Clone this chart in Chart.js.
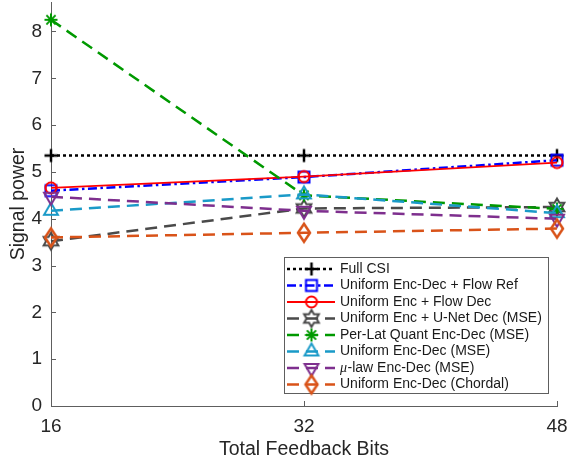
<!DOCTYPE html>
<html>
<head>
<meta charset="utf-8">
<script src="https://cdn.jsdelivr.net/npm/chart.js@4.4.1/dist/chart.umd.min.js"></script>
<style>
  html, body { margin: 0; padding: 0; background: #ffffff; }
  #wrap { width: 568px; height: 457px; }
</style>
</head>
<body>
<div id="wrap"><canvas id="c" width="568" height="457"></canvas></div>
<script>
// ---- data ----
const feedbackBits = [16, 32, 48];
const yTickValues = [0, 1, 2, 3, 4, 5, 6, 7, 8];
const seriesNames = [
  'Full CSI',
  'Uniform Enc-Dec + Flow Ref',
  'Uniform Enc + Flow Dec',
  'Uniform Enc + U-Net Dec (MSE)',
  'Per-Lat Quant Enc-Dec (MSE)',
  'Uniform Enc-Dec (MSE)',
  'μ-law Enc-Dec (MSE)',
  'Uniform Enc-Dec (Chordal)'
];
const fullCSI        = [5.35, 5.35, 5.35];
const flowRef        = [4.60, 4.89, 5.25];
const flowDec        = [4.66, 4.90, 5.20];
const unetDecMSE     = [3.52, 4.22, 4.25];
const perLatQuantMSE = [8.25, 4.50, 4.21];
const uniformMSE     = [4.17, 4.52, 4.12];
const muLawMSE       = [4.47, 4.17, 4.00];
const uniformChordal = [3.60, 3.70, 3.79];
const seriesValues = [fullCSI, flowRef, flowDec, unetDecMSE, perLatQuantMSE, uniformMSE, muLawMSE, uniformChordal];

// ---- styles ----
const AXIS_COLOR = '#5e5e5e';
const TEXT_COLOR = '#262626';
const FONT = '"Liberation Sans", Arial, Helvetica, sans-serif';
const DASH = [12, 7];
const seriesStyles = [
  { color: '#000000', width: 2.5, dash: [3, 3],             marker: 'plus',     mlw: 2.5 },
  { color: '#0000ff', width: 2.5, dash: [9, 3.5, 2.5, 3.5], marker: 'square',   mlw: 2 },
  { color: '#ff0000', width: 1.8, dash: [],                 marker: 'circle',   mlw: 2 },
  { color: '#4a4a4a', width: 2.5, dash: DASH,               marker: 'hexagram', mlw: 2 },
  { color: '#009900', width: 2.5, dash: DASH,               marker: 'asterisk', mlw: 2 },
  { color: '#1a9ac8', width: 2.5, dash: DASH,               marker: 'triUp',    mlw: 2 },
  { color: '#7e2f8e', width: 2.5, dash: DASH,               marker: 'triDown',  mlw: 2 },
  { color: '#d95319', width: 2.5, dash: DASH,               marker: 'diamond',  mlw: 2.5 }
];

// Hollow marker glyphs rendered once into small canvases
function makeMarker(kind, color, lw) {
  const S = 26, c = S / 2;
  const cv = document.createElement('canvas');
  cv.width = S; cv.height = S;
  const g = cv.getContext('2d');
  g.strokeStyle = color;
  g.lineWidth = lw;
  g.lineJoin = 'miter';
  g.beginPath();
  const poly = (pts) => { pts.forEach((p, i) => i ? g.lineTo(c + p[0], c + p[1]) : g.moveTo(c + p[0], c + p[1])); g.closePath(); };
  switch (kind) {
    case 'plus':
      g.moveTo(c - 6.5, c); g.lineTo(c + 6.5, c);
      g.moveTo(c, c - 6.5); g.lineTo(c, c + 6.5);
      break;
    case 'square':
      g.rect(c - 5.5, c - 5.5, 11, 11);
      break;
    case 'circle':
      g.arc(c, c, 5.5, 0, Math.PI * 2);
      break;
    case 'hexagram': {
      const R = 8.5, r = R / Math.sqrt(3), pts = [];
      for (let i = 0; i < 12; i++) {
        const a = -Math.PI / 2 + i * Math.PI / 6;
        const rr = i % 2 ? r : R;
        pts.push([rr * Math.cos(a), rr * Math.sin(a)]);
      }
      poly(pts);
      break;
    }
    case 'asterisk':
      for (let k = 0; k < 4; k++) {
        const a = k * Math.PI / 4;
        g.moveTo(c - 6.5 * Math.cos(a), c - 6.5 * Math.sin(a));
        g.lineTo(c + 6.5 * Math.cos(a), c + 6.5 * Math.sin(a));
      }
      break;
    case 'triUp': {
      const r = 8;
      poly([[0, -r], [r * Math.cos(Math.PI / 6), r / 2], [-r * Math.cos(Math.PI / 6), r / 2]]);
      break;
    }
    case 'triDown': {
      const r = 8;
      poly([[0, r], [r * Math.cos(Math.PI / 6), -r / 2], [-r * Math.cos(Math.PI / 6), -r / 2]]);
      break;
    }
    case 'diamond':
      poly([[0, -9], [6, 0], [0, 9], [-6, 0]]);
      break;
  }
  g.stroke();
  return cv;
}

const markers = seriesStyles.map(s => makeMarker(s.marker, s.color, s.mlw));

const datasets = seriesValues.map((vals, i) => ({
  label: seriesNames[i],
  data: feedbackBits.map((x, j) => ({ x: x, y: vals[j] })),
  borderColor: seriesStyles[i].color,
  backgroundColor: seriesStyles[i].color,
  borderWidth: seriesStyles[i].width,
  borderDash: seriesStyles[i].dash,
  borderCapStyle: 'butt',
  pointStyle: markers[i],
  pointRadius: 8,
  pointHoverRadius: 8,
  fill: false,
  tension: 0,
  clip: false,
  order: -i
}));

// MATLAB-like tick marks pointing into the plot area
const innerTicks = {
  id: 'innerTicks',
  beforeDatasetsDraw(chart) {
    const { ctx, chartArea: a, scales: { x, y } } = chart;
    ctx.save();
    ctx.strokeStyle = AXIS_COLOR;
    ctx.lineWidth = 1;
    ctx.beginPath();
    feedbackBits.forEach(v => {
      const px = Math.round(x.getPixelForValue(v)) + 0.5;
      ctx.moveTo(px, a.bottom); ctx.lineTo(px, a.bottom - 5);
    });
    yTickValues.forEach(v => {
      const py = Math.round(y.getPixelForValue(v)) + 0.5;
      ctx.moveTo(a.left, py); ctx.lineTo(a.left + 5, py);
    });
    ctx.stroke();
    ctx.restore();
  }
};

// Boxed key in the lower right of the plot area
const seriesKey = {
  id: 'seriesKey',
  afterDraw(chart) {
    const { ctx, chartArea: a } = chart;
    const w = 264, h = 136;
    const right = a.right - 9, bottom = a.bottom - 13;
    const left = right - w, top = bottom - h;
    ctx.save();
    ctx.fillStyle = '#ffffff';
    ctx.fillRect(left, top, w, h);
    ctx.strokeStyle = AXIS_COLOR;
    ctx.lineWidth = 1;
    ctx.strokeRect(Math.round(left) + 0.5, Math.round(top) + 0.5, w, h);
    chart.data.datasets.forEach((ds, i) => {
      const cy = top + 12 + i * 16.5;
      ctx.save();
      ctx.strokeStyle = ds.borderColor;
      ctx.lineWidth = ds.borderWidth;
      ctx.setLineDash(ds.borderDash);
      ctx.lineCap = 'butt';
      ctx.beginPath();
      ctx.moveTo(left + 3, cy); ctx.lineTo(left + 51, cy);
      ctx.stroke();
      ctx.restore();
      const m = ds.pointStyle;
      ctx.drawImage(m, left + 27.5 - m.width / 2, cy - m.height / 2);
      ctx.fillStyle = '#1a1a1a';
      ctx.textBaseline = 'middle';
      ctx.textAlign = 'left';
      let tx = left + 56;
      let text = ds.label;
      if (text.startsWith('μ')) {
        ctx.font = 'italic 14px "Liberation Serif", "DejaVu Serif", serif';
        ctx.fillText('μ', tx, cy);
        tx += ctx.measureText('μ').width + 0.5;
        text = text.slice(1);
      }
      ctx.font = '14px ' + FONT;
      ctx.fillText(text, tx, cy);
    });
    ctx.restore();
  }
};

const resetPadding = (scale) => {
  scale.paddingTop = 0; scale.paddingBottom = 0;
  scale.paddingLeft = 0; scale.paddingRight = 0;
};

new Chart(document.getElementById('c'), {
  type: 'line',
  data: { datasets: datasets },
  options: {
    responsive: false,
    animation: false,
    devicePixelRatio: 1,
    layout: { autoPadding: false, padding: { top: 2, right: 11, bottom: 0, left: 0 } },
    plugins: {
      legend: { display: false },
      tooltip: { enabled: false }
    },
    scales: {
      x: {
        type: 'linear',
        min: feedbackBits[0],
        max: feedbackBits[feedbackBits.length - 1],
        afterBuildTicks: (s) => { s.ticks = feedbackBits.map(v => ({ value: v })); },
        afterFit: (s) => { s.height = 51; resetPadding(s); },
        grid: { display: false, drawTicks: false },
        border: { display: true, color: AXIS_COLOR, width: 1 },
        ticks: {
          padding: 9,
          maxRotation: 0,
          color: TEXT_COLOR,
          font: { family: FONT, size: 19 }
        },
        title: {
          display: true,
          text: 'Total Feedback Bits',
          color: TEXT_COLOR,
          font: { family: FONT, size: 19.5, lineHeight: 0.8 },
          padding: { top: 0, bottom: 0 }
        }
      },
      y: {
        type: 'linear',
        min: 0,
        max: 8.63,
        afterBuildTicks: (s) => { s.ticks = yTickValues.map(v => ({ value: v })); },
        afterFit: (s) => { s.width = 51; resetPadding(s); },
        grid: { display: false, drawTicks: false },
        border: { display: true, color: AXIS_COLOR, width: 1 },
        ticks: {
          padding: 9,
          color: TEXT_COLOR,
          font: { family: FONT, size: 19 },
          callback: (v) => String(v)
        },
        title: {
          display: true,
          text: 'Signal power',
          color: TEXT_COLOR,
          font: { family: FONT, size: 19.5, lineHeight: 1.2 },
          padding: { top: 6.5, bottom: 0 }
        }
      }
    }
  },
  plugins: [innerTicks, seriesKey]
});
</script>
</body>
</html>
